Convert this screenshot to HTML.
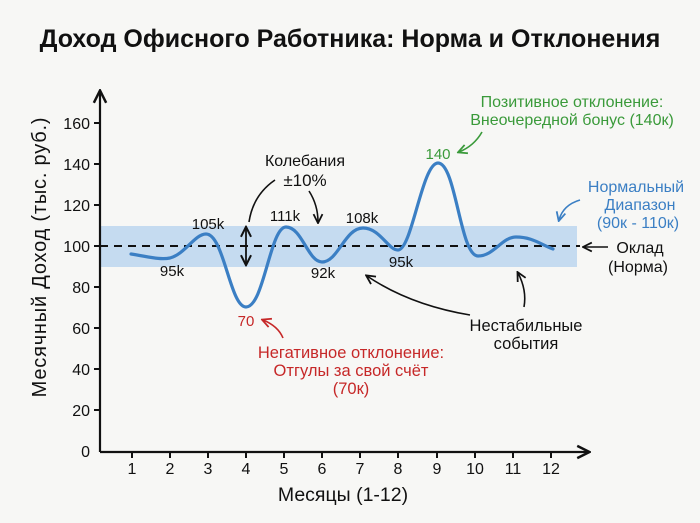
<!DOCTYPE html><html><head><meta charset="utf-8"><style>
body{margin:0;background:#f7f7f5;}
svg{display:block;font-family:"Liberation Sans","DejaVu Sans",sans-serif;}
</style></head><body>
<svg width="700" height="523" viewBox="0 0 700 523" xmlns="http://www.w3.org/2000/svg">
<defs>
<marker id="ah" viewBox="0 0 10 10" refX="8" refY="5" markerWidth="7" markerHeight="7" orient="auto-start-reverse"><path d="M1,1 L9,5 L1,9" fill="none" stroke="#111" stroke-width="1.6"/></marker>
<marker id="ag" viewBox="0 0 10 10" refX="8" refY="5" markerWidth="7" markerHeight="7" orient="auto"><path d="M1,1 L9,5 L1,9" fill="none" stroke="#3a9a3a" stroke-width="1.6"/></marker>
<marker id="ar" viewBox="0 0 10 10" refX="8" refY="5" markerWidth="7" markerHeight="7" orient="auto"><path d="M1,1 L9,5 L1,9" fill="none" stroke="#c62828" stroke-width="1.6"/></marker>
<marker id="ab" viewBox="0 0 10 10" refX="8" refY="5" markerWidth="7" markerHeight="7" orient="auto"><path d="M1,1 L9,5 L1,9" fill="none" stroke="#3b7fc4" stroke-width="1.6"/></marker>
</defs>
<rect width="700" height="523" fill="#f7f7f5"/>
<text x="350" y="47" text-anchor="middle" font-size="25" font-weight="bold" fill="#111">Доход Офисного Работника: Норма и Отклонения</text>
<rect x="100" y="226" width="477" height="41" fill="#c5dbf0"/>
<line x1="100" y1="246" x2="580" y2="246" stroke="#111" stroke-width="2" stroke-dasharray="8,6"/>
<line x1="100" y1="452" x2="100" y2="92" stroke="#111" stroke-width="2.2" marker-end="url(#ah)"/>
<line x1="100" y1="452" x2="588" y2="452" stroke="#111" stroke-width="2.2" marker-end="url(#ah)"/>
<g stroke="#111" stroke-width="2">
<line x1="94" y1="123" x2="100" y2="123"/><line x1="94" y1="164" x2="100" y2="164"/><line x1="94" y1="205" x2="100" y2="205"/><line x1="94" y1="246" x2="100" y2="246"/><line x1="94" y1="287" x2="100" y2="287"/><line x1="94" y1="328" x2="100" y2="328"/><line x1="94" y1="369" x2="100" y2="369"/><line x1="94" y1="410" x2="100" y2="410"/>
<line x1="132" y1="452" x2="132" y2="458"/><line x1="170" y1="452" x2="170" y2="458"/><line x1="208" y1="452" x2="208" y2="458"/><line x1="246" y1="452" x2="246" y2="458"/><line x1="284" y1="452" x2="284" y2="458"/><line x1="322" y1="452" x2="322" y2="458"/><line x1="360" y1="452" x2="360" y2="458"/><line x1="398" y1="452" x2="398" y2="458"/><line x1="437" y1="452" x2="437" y2="458"/><line x1="475" y1="452" x2="475" y2="458"/><line x1="513" y1="452" x2="513" y2="458"/><line x1="551" y1="452" x2="551" y2="458"/>
</g>
<g font-size="16" fill="#111" text-anchor="end">
<text x="90" y="129">160</text><text x="90" y="170">140</text><text x="90" y="211">120</text><text x="90" y="252">100</text><text x="90" y="293">80</text><text x="90" y="334">60</text><text x="90" y="375">40</text><text x="90" y="416">20</text><text x="90" y="457">0</text>
</g>
<g font-size="16" fill="#111" text-anchor="middle">
<text x="132" y="474">1</text><text x="170" y="474">2</text><text x="208" y="474">3</text><text x="246" y="474">4</text><text x="284" y="474">5</text><text x="322" y="474">6</text><text x="360" y="474">7</text><text x="398" y="474">8</text><text x="437" y="474">9</text><text x="475" y="474">10</text><text x="513" y="474">11</text><text x="551" y="474">12</text>
</g>
<text x="343" y="501" text-anchor="middle" font-size="19.5" fill="#111">Месяцы (1-12)</text>
<text transform="translate(46,257) rotate(-90)" text-anchor="middle" font-size="20" letter-spacing="0.8" fill="#111">Месячный Доход (тыс. руб.)</text>
<path d="M131,254 C150,257 160,260 170,258 C185,254 195,234 206,234 C224,234 230,307 246,307 C264,307 270,227 286,227 C302,227 308,262 322,262 C338,262 345,228 363,228 C380,228 388,250 398,250 C412,250 422,163 438,163 C456,163 460,256 478,256 C494,256 502,237 516,237 C532,237 540,244 553,249" fill="none" stroke="#3b7fc4" stroke-width="3.2" stroke-linecap="round"/>
<g font-size="15" fill="#111" text-anchor="middle">
<text x="172" y="276">95k</text><text x="208" y="229">105k</text><text x="285" y="221">111k</text><text x="323" y="278">92k</text><text x="362" y="223">108k</text><text x="401" y="267">95k</text>
</g>
<text x="246" y="326" text-anchor="middle" font-size="15" fill="#c62828">70</text>
<text x="438" y="159" text-anchor="middle" font-size="15" fill="#3a9a3a">140</text>
<line x1="246" y1="228" x2="246" y2="264" stroke="#111" stroke-width="1.8" marker-start="url(#ah)" marker-end="url(#ah)"/>
<text x="305" y="166" text-anchor="middle" font-size="16" fill="#111">Колебания</text>
<text x="305" y="186" text-anchor="middle" font-size="17" fill="#111">±10%</text>
<path d="M275,180 Q253,195 249,222" fill="none" stroke="#111" stroke-width="1.6"/>
<path d="M309,191 Q318,205 318,222" fill="none" stroke="#111" stroke-width="1.6" marker-end="url(#ah)"/>
<text x="351" y="358" text-anchor="middle" font-size="16.5" fill="#c62828">Негативное отклонение:</text>
<text x="351" y="376" text-anchor="middle" font-size="16.5" fill="#c62828">Отгулы за свой счёт</text>
<text x="351" y="394" text-anchor="middle" font-size="16.5" fill="#c62828">(70к)</text>
<path d="M283,338 Q278,326 263,320" fill="none" stroke="#c62828" stroke-width="1.6" marker-end="url(#ar)"/>
<text x="572" y="107" text-anchor="middle" font-size="16" fill="#3a9a3a">Позитивное отклонение:</text>
<text x="572" y="125" text-anchor="middle" font-size="16" fill="#3a9a3a">Внеочередной бонус (140к)</text>
<path d="M482,132 Q474,146 459,152" fill="none" stroke="#3a9a3a" stroke-width="1.6" marker-end="url(#ag)"/>
<text x="636" y="192" text-anchor="middle" font-size="16" fill="#3b7fc4">Нормальный</text>
<text x="640" y="210" text-anchor="middle" font-size="16" fill="#3b7fc4">Диапазон</text>
<text x="638" y="228" text-anchor="middle" font-size="16" fill="#3b7fc4">(90к - 110к)</text>
<path d="M580,200 Q563,205 559,220" fill="none" stroke="#3b7fc4" stroke-width="1.6" marker-end="url(#ab)"/>
<text x="640" y="253" text-anchor="middle" font-size="16" fill="#111">Оклад</text>
<text x="638" y="272" text-anchor="middle" font-size="16" fill="#111">(Норма)</text>
<line x1="608" y1="247" x2="584" y2="247" stroke="#111" stroke-width="1.6" marker-end="url(#ah)"/>
<text x="526" y="331" text-anchor="middle" font-size="16.5" fill="#111">Нестабильные</text>
<text x="526" y="349" text-anchor="middle" font-size="16.5" fill="#111">события</text>
<path d="M470,315 Q410,305 367,276" fill="none" stroke="#111" stroke-width="1.6" marker-end="url(#ah)"/>
<path d="M524,307 Q527,290 518,273" fill="none" stroke="#111" stroke-width="1.6" marker-end="url(#ah)"/>
</svg>
</body></html>
